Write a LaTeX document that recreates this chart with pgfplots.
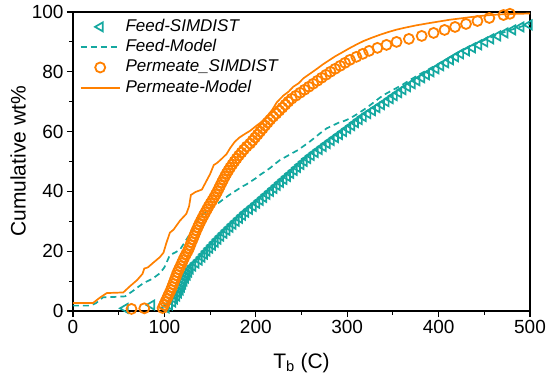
\documentclass[border=0pt]{standalone}
\usepackage{pgfplots}
\pgfplotsset{compat=1.18}
\usepackage{fontspec}
\setmainfont{Liberation Sans}
\definecolor{tealc}{RGB}{20,168,160}
\definecolor{orangec}{RGB}{255,128,0}
\begin{document}
\begin{tikzpicture}
\begin{axis}[
 scale only axis, width=457pt, height=299pt,
 xmin=0, xmax=500, ymin=0, ymax=100,
 xtick={0,100,...,500}, ytick={0,20,...,100},
 minor x tick num=1, minor y tick num=1,
 tick align=outside, xtick pos=bottom, ytick pos=left,
 major tick length=6pt, minor tick length=3.5pt,
 axis line style={line width=1.2pt},
 every tick/.style={line width=1.1pt, black},
 tick label style={font=\fontsize{19}{21}\selectfont},
 /pgf/number format/assume math mode=true,
 xlabel={T\textsubscript{b} (C)}, ylabel={Cumulative wt\%},
 every axis x label/.style={at={(rel axis cs:0.5,-0.174)}, anchor=center, font=\fontsize{21}{24}\selectfont},
 every axis y label/.style={at={(rel axis cs:-0.12,0.5)}, rotate=90, anchor=center, font=\fontsize{21}{24}\selectfont},
 clip=false,
 legend cell align=left,
 legend style={at={(rel axis cs:0.015,0.977)}, anchor=north west, draw=none, fill=none,
   inner sep=0pt, outer sep=0pt, row sep=4.3pt,
   font=\fontsize{17}{19}\selectfont\itshape,
   nodes={inner sep=0pt, text height=12.5pt, text depth=3.5pt},
   /tikz/every odd column/.append style={column sep=5pt}},
 legend image code/.code={\draw[mark repeat=2,mark phase=2,#1] plot coordinates {(0pt,0pt) (19.5pt,0pt) (39pt,0pt)};},
]
\addplot[only marks, color=tealc, mark=triangle, mark size=5.2pt, mark options={rotate=90, line width=1.7pt}] coordinates {
(57,0.9) (86,2.0) (102,1) (105.5,2) (109,3) (111,4) (113.3,5) (115.4,6) (117.2,7) (118.6,8) (120,9) (121.4,10) (123,11) (124.8,12) (126.5,13) (128.3,14) (131,15) (134.5,16) (138,17) (141,18) (143.7,19) (146.6,20) (149.5,21) (152.5,22) (155.5,23) (158.5,24) (161.7,25) (165,26) (168.3,27) (171.7,28) (175,29) (178.5,30) (182,31) (185.5,32) (189,33) (193,34) (197,35) (201,36) (204.7,37) (208.5,38) (212.2,39) (216,40) (219.7,41) (223.4,42) (227,43) (230.7,44) (234.5,45) (238.2,46) (242,47) (245.6,48) (249.3,49) (253,50) (256.7,51) (260.7,52) (265,53) (269.3,54) (273.7,55) (278,56) (282.5,57) (287,58) (291.5,59) (296,60) (300.4,61) (304.8,62) (309,63) (313.2,64) (317.6,65) (322.5,66) (327.5,67) (332.5,68) (337.5,69) (342.5,70) (347,71) (351.5,72) (356.3,73) (361,74) (366,75) (371,76) (376.2,77) (381.4,78) (386.6,79) (391.5,80) (397,81) (402.3,82) (407.7,83) (413,84) (418.5,85) (424,86) (430.4,87) (437,88) (443.8,89) (450.5,90) (457,91) (464.5,92) (472.5,93) (481,94) (490,95) (499,95.7)
};
\addlegendentry{Feed-SIMDIST}
\addplot[color=tealc, line width=1.7pt, dash pattern=on 6pt off 4pt, no marks] coordinates {
(0,1.8) (19,1.8) (25,2.6) (33,4.6) (45,4.7) (57,4.9) (65,6.6) (72,8.2) (77,9.3) (87,10.8) (95,12.6) (100,14.6) (106,18.7) (112,19.6) (117,20.5) (121,22.4) (126,24.8) (130,27) (134,29.2) (138,31) (146,33.4) (154,35.1) (160,36.3) (165,37.5) (170,38.6) (175,39.6) (180,40.6) (185,41.6) (190,42.4) (194,43.2) (200,44.4) (205,45.6) (210,46.6) (216,47.9) (221,49.2) (226.5,50.5) (233,51.6) (240,52.8) (246,53.8) (252,55.1) (258,56.4) (265,58.1) (271,59.6) (277.6,61.1) (284,62.0) (290,62.9) (297,63.6) (303,64.4) (310,65.7) (317.6,67.2) (324,68.6) (330,70) (336,71.4) (342,72.6) (351,74.1) (360,75.6) (370,77.5) (380,79.3) (390,81) (400,82.7) (412,84.8) (425,87) (437,88.8) (450,90.6) (462,92.1) (475,93.6) (488,94.9) (500,96)
};
\addlegendentry{Feed-Model}
\addplot[only marks, color=orangec, mark=o, mark size=5pt, mark options={line width=1.8pt}] coordinates {
(64,0.7) (78,0.9) (98,1) (99.5,2) (101,3) (102.5,4) (104,5) (105.5,6) (107,7) (108.3,8) (109.6,9) (110.8,10) (112,11) (113.2,12) (114.4,13) (116,14) (117.5,15) (119,16) (120.5,17) (122,18) (123.7,19) (125.5,20) (127,21) (128.3,22) (129.6,23) (131,24) (132.3,25) (133.7,26) (135,27) (136.5,28) (138,29) (139.6,30) (141.3,31) (143,32) (144.8,33) (146.6,34) (148.4,35) (150.4,36) (152.4,37) (154.4,38) (156.2,39) (158,40) (159.6,41) (161.2,42) (162.8,43) (164.5,44) (166.2,45) (168,46) (170,47) (172,48) (174.3,49) (176.6,50) (179,51) (181.5,52) (184.3,53) (187,54) (190,55) (193.7,56) (196.5,57) (199.2,58) (202,59) (204.7,60) (207.5,61) (210.2,62) (213,63) (215.8,64) (219,65) (222.4,66) (225.7,67) (229,68) (232.3,69) (235.5,70) (239.2,71) (243.8,72) (248.5,73) (253.3,74) (258,75) (262.7,76) (267.4,77) (272,78) (276.8,79) (281.6,80) (286.8,81) (292.3,82) (297.6,83) (303,84) (310,85) (317,86) (324,87) (333,88) (343,89) (354,90) (367.5,91) (381.5,92) (394.5,93) (406.5,94) (418,95) (430,96) (442.5,97) (455.5,98) (471,99) (478,99.4)
};
\addlegendentry{Permeate\_SIMDIST}
\addplot[color=orangec, line width=1.7pt, no marks] coordinates {
(0,2.7) (22,2.7) (30,4.6) (37,6.0) (55,6.2) (62,8.2) (70,10.3) (76,12.4) (78,14.2) (82,14.6) (88,16.2) (95,18.0) (99,19.5) (102,22.6) (106,26.2) (110,27.2) (117,30.2) (124,32.5) (127,35) (129,38.8) (134,39.8) (141,40.6) (146,43.5) (150,45.8) (154,48.8) (158,49.6) (163,51) (168,52.5) (172,54.5) (177,56.6) (182,58) (188,59.2) (194,60.3) (200,61.8) (206,63.2) (212,65) (218,67.3) (223,69.8) (230,72) (236,73.4) (241,75) (247,76.2) (252,77.8) (259,79.3) (266,80.8) (273,82.4) (280,83.8) (287,85.2) (294,86.4) (302,87.8) (310,89.1) (318,90.3) (327,91.4) (336,92.4) (345,93.3) (354,94.1) (364,94.8) (375,95.5) (388,96.2) (400,96.8) (412,97.4) (425,97.9) (438,98.4) (450,98.8) (462,99.1) (475,99.3) (488,99.4) (500,99.5)
};
\addlegendentry{Permeate-Model}
\coordinate (bl) at (rel axis cs:0,0);
\coordinate (tr) at (rel axis cs:1,1);
\end{axis}
\pgfresetboundingbox
\path ([shift={(-73pt,-71pt)}]bl) rectangle ([shift={(20pt,12pt)}]tr);
\end{tikzpicture}
\end{document}
